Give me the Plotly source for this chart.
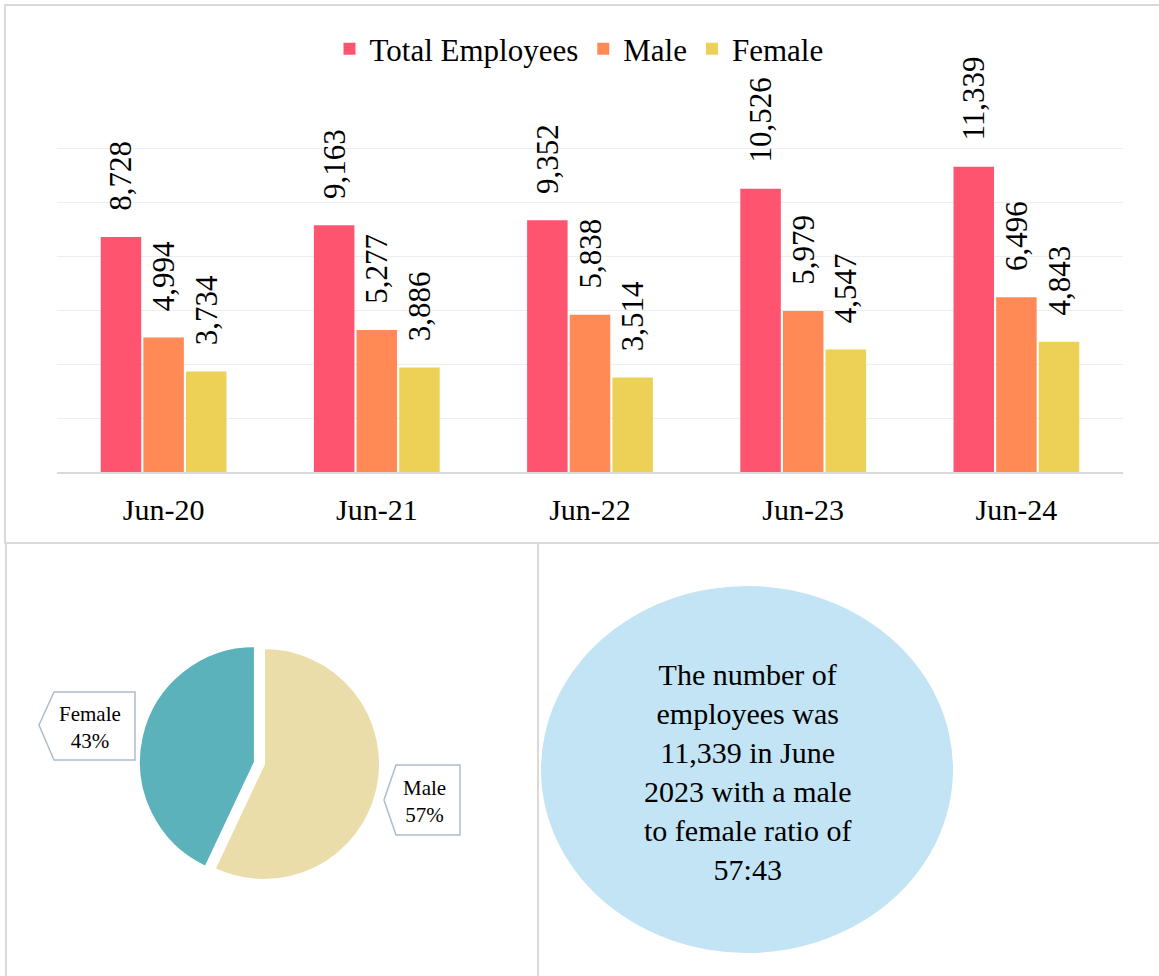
import plotly.graph_objects as go

# ---------------- data ----------------
periods = ["Jun-20", "Jun-21", "Jun-22", "Jun-23", "Jun-24"]
total_employees = [8728, 9163, 9352, 10526, 11339]
male_employees = [4994, 5277, 5838, 5979, 6496]
female_employees = [3734, 3886, 3514, 4547, 4843]

pie_labels = ["Male", "Female"]
pie_values = [57, 43]

series_names = ["Total Employees", "Male", "Female"]
series_colors = ["#FF5470", "#FF8A56", "#EDD157"]
pie_colors = ["#EBDDAA", "#5BB2BB"]

# ---------------- helpers ----------------
W, H = 1159, 976
FONT = "Liberation Serif"


def fx(px):
    return px / W


def fy(py):
    return 1 - py / H


fig = go.Figure()

gap = "\u00a0\u00a0\u00a0"
for name, vals, col in zip(series_names,
                           [total_employees, male_employees, female_employees],
                           series_colors):
    fig.add_trace(go.Bar(
        name=name, x=periods, y=vals,
        marker=dict(color=col, line=dict(width=0)),
        texttemplate=gap + "%{y:,}",
        textposition="outside", textangle=-90,
        textfont=dict(family=FONT, size=31, color="#000000"),
        constraintext="none", cliponaxis=False,
        hoverinfo="skip",
    ))

# pie
fig.add_trace(go.Pie(
    labels=pie_labels, values=pie_values, sort=False,
    direction="clockwise", rotation=0,
    marker=dict(colors=pie_colors, line=dict(color="#FFFFFF", width=2)),
    pull=[0, 0.08], textinfo="none", showlegend=False,
    domain=dict(x=[fx(138.7), fx(389.3)], y=[fy(889.3), fy(638.7)]),
    hoverinfo="skip",
))

shapes = []
# panel borders
border = dict(color="#D9D9D9", width=2)
shapes.append(dict(type="rect", xref="paper", yref="paper",
                   x0=fx(5), x1=fx(1165), y0=fy(543), y1=fy(5),
                   line=border, fillcolor="rgba(0,0,0,0)", layer="below"))
shapes.append(dict(type="line", xref="paper", yref="paper",
                   x0=fx(6), x1=fx(6), y0=fy(543), y1=fy(980), line=border))
shapes.append(dict(type="line", xref="paper", yref="paper",
                   x0=fx(538), x1=fx(538), y0=fy(543), y1=fy(980), line=border))
# ellipse
shapes.append(dict(type="circle", xref="paper", yref="paper",
                   x0=fx(541), x1=fx(953), y0=fy(953), y1=fy(586),
                   fillcolor="#C2E4F4", line=dict(width=0), layer="below"))


def callout(pts):
    path = "M " + " L ".join(f"{fx(x):.5f},{fy(y):.5f}" for x, y in pts) + " Z"
    return dict(type="path", xref="paper", yref="paper", path=path,
                fillcolor="#FFFFFF", line=dict(color="#AEBCCB", width=1.5))


# female callout (points left)
shapes.append(callout([(39, 725), (54, 692), (135, 692), (135, 760), (54, 760)]))
# male callout (points left)
shapes.append(callout([(384, 800), (396, 765), (460, 765), (460, 835), (396, 835)]))

annotations = []
pct = dict(zip(pie_labels, pie_values))
annotations.append(dict(xref="paper", yref="paper", x=fx(90), y=fy(727),
                        text=f"Female<br>{pct['Female']}%", showarrow=False,
                        font=dict(family=FONT, size=21, color="#000000"),
                        xanchor="center", yanchor="middle"))
annotations.append(dict(xref="paper", yref="paper", x=fx(424), y=fy(801),
                        text=f"Male<br>{pct['Male']}%", showarrow=False,
                        font=dict(family=FONT, size=21, color="#000000"),
                        xanchor="center", yanchor="middle"))

summary = (f"The number of<br>employees was<br>{total_employees[-1]:,} in June<br>"
           f"2023 with a male<br>to female ratio of<br>{pct['Male']}:{pct['Female']}")
annotations.append(dict(xref="paper", yref="paper", x=fx(747), y=fy(772),
                        text=summary, showarrow=False, align="center",
                        font=dict(family=FONT, size=30, color="#000000"),
                        xanchor="center", yanchor="middle"))

Y_MAX = 12100
px_per_unit = (472 - 149) / 12000

fig.update_layout(
    width=W, height=H, autosize=False,
    margin=dict(l=0, r=0, t=0, b=0),
    paper_bgcolor="#FFFFFF", plot_bgcolor="#FFFFFF",
    font=dict(family=FONT, color="#000000"),
    barmode="group", bargap=0.4, bargroupgap=0.05,
    showlegend=True,
    legend=dict(orientation="h", x=fx(579), xanchor="center",
                y=fy(49), yanchor="middle",
                font=dict(family=FONT, size=31, color="#000000"),
                bgcolor="rgba(0,0,0,0)", itemclick=False),
    xaxis=dict(domain=[fx(57), fx(1123)], showgrid=False, ticks="",
               showline=True, linecolor="#D9D9D9", linewidth=2,
               tickfont=dict(family=FONT, size=30, color="#000000"),
               ticklabelstandoff=10, fixedrange=True),
    yaxis=dict(domain=[fy(472), fy(472 - Y_MAX * px_per_unit)],
               range=[0, Y_MAX], tickvals=[2000, 4000, 6000, 8000, 10000, 12000],
               showticklabels=False, showgrid=True, gridcolor="#EEEEEE",
               gridwidth=1, zeroline=False, fixedrange=True),
    shapes=shapes, annotations=annotations,
)

fig.write_html("out.html",
               config={"displayModeBar": False},
               post_script="document.body.style.margin='0';"
                           "document.body.style.padding='0';"
                           "document.body.style.overflow='hidden';")
